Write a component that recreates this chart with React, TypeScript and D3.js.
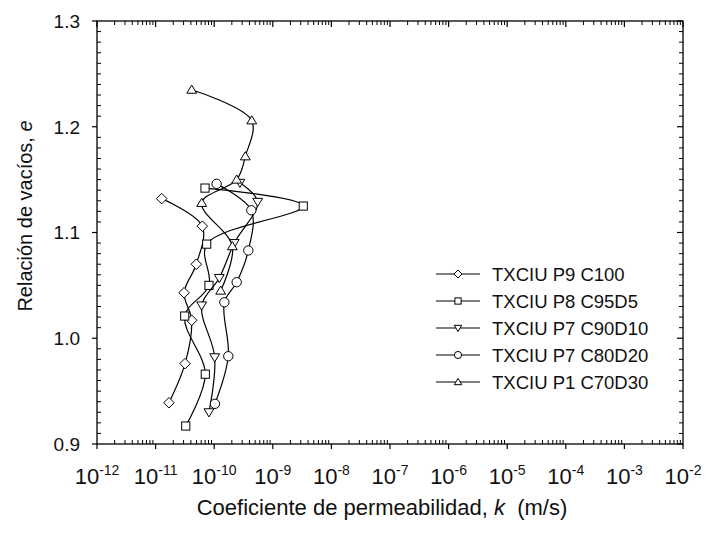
import * as d3 from "d3";

// void ratio e vs permeability k (m/s)
const seriesNames = [
  "TXCIU P9 C100",
  "TXCIU P8 C95D5",
  "TXCIU P7 C90D10",
  "TXCIU P7 C80D20",
  "TXCIU P1 C70D30",
];
const markerTypes = ["diamond", "square", "triangleDown", "circle", "triangleUp"];

const kP9 = [1.27e-11, 6.27e-11, 4.95e-11, 3.06e-11, 4.13e-11, 3.18e-11, 1.69e-11];
const eP9 = [1.132, 1.106, 1.07, 1.043, 1.017, 0.976, 0.939];

const kP8 = [6.97e-11, 3.31e-9, 7.45e-11, 8.14e-11, 3.14e-11, 7.05e-11, 3.27e-11];
const eP8 = [1.142, 1.125, 1.089, 1.05, 1.021, 0.966, 0.917];

const kP7a = [2.75e-10, 5.52e-10, 2.2e-10, 1.22e-10, 6.12e-11, 1.02e-10, 8.14e-11];
const eP7a = [1.147, 1.129, 1.09, 1.057, 1.031, 0.982, 0.93];

const kP7b = [1.1e-10, 4.3e-10, 3.82e-10, 2.42e-10, 1.49e-10, 1.74e-10, 1.03e-10];
const eP7b = [1.146, 1.121, 1.083, 1.053, 1.034, 0.983, 0.938];

const kP1 = [4.13e-11, 4.37e-10, 3.4e-10, 2.42e-10, 6.12e-11, 2.04e-10, 1.29e-10];
const eP1 = [1.235, 1.206, 1.172, 1.15, 1.128, 1.087, 1.045];

const kSeries = [kP9, kP8, kP7a, kP7b, kP1];
const eSeries = [eP9, eP8, eP7a, eP7b, eP1];

const xExponents = [-12, -11, -10, -9, -8, -7, -6, -5, -4, -3, -2];
const yTicks = [0.9, 1.0, 1.1, 1.2, 1.3];

const W = 706;
const H = 537;
const left = 97, right = 683, top = 21, bottom = 444;
const font = "'Liberation Sans', Arial, sans-serif";

function Marker({ type, x, y, s }: { type: string; x: number; y: number; s: number }) {
  const common = { fill: "#fff", stroke: "#000", strokeWidth: 1 };
  if (type === "circle") return <circle cx={x} cy={y} r={s * 0.55} {...common} />;
  if (type === "square")
    return <rect x={x - s * 0.48} y={y - s * 0.48} width={s * 0.96} height={s * 0.96} {...common} />;
  if (type === "diamond") {
    const r = s * 0.62;
    return <path d={`M${x},${y - r}L${x + r},${y}L${x},${y + r}L${x - r},${y}Z`} {...common} />;
  }
  const h = s * 0.55;
  if (type === "triangleUp")
    return <path d={`M${x},${y - h}L${x + h * 1.05},${y + h * 0.75}L${x - h * 1.05},${y + h * 0.75}Z`} {...common} />;
  return <path d={`M${x},${y + h}L${x + h * 1.05},${y - h * 0.75}L${x - h * 1.05},${y - h * 0.75}Z`} {...common} />;
}

export default function App() {
  const x = d3.scaleLog().domain([1e-12, 1e-2]).range([left, right]);
  const y = d3.scaleLinear().domain([0.9, 1.3]).range([bottom, top]);

  const line = d3
    .line<[number, number]>()
    .x((d) => x(d[0]))
    .y((d) => y(d[1]))
    .curve(d3.curveCatmullRom.alpha(0.5));

  const minorX: number[] = [];
  xExponents.slice(0, -1).forEach((p) => {
    for (let m = 2; m <= 9; m++) minorX.push(m * Math.pow(10, p));
  });
  const minorY = d3.range(0, 41).map((i) => 0.9 + i * 0.01).filter((_, i) => i % 10 !== 0);

  return (
    <svg width={W} height={H} style={{ position: "absolute", left: 0, top: 0, background: "#fff" }}>
      <rect x={0} y={0} width={W} height={H} fill="#fff" />
      {/* series */}
      {kSeries.map((ks, i) => {
        const pts = ks.map((k, j) => [k, eSeries[i][j]] as [number, number]);
        return (
          <g key={i}>
            <path d={line(pts) || ""} fill="none" stroke="#000" strokeWidth={1.2} />
            {pts.map((p, j) => (
              <Marker key={j} type={markerTypes[i]} x={x(p[0])} y={y(p[1])} s={8.5} />
            ))}
          </g>
        );
      })}

      {/* frame */}
      <rect x={left} y={top} width={right - left} height={bottom - top} fill="none" stroke="#000" strokeWidth={1.3} />

      {/* x ticks */}
      {xExponents.map((p) => {
        const px = x(Math.pow(10, p));
        return (
          <g key={p}>
            <line x1={px} x2={px} y1={bottom} y2={bottom + 5} stroke="#000" strokeWidth={1.2} />
            <line x1={px} x2={px} y1={top} y2={top + 6} stroke="#000" strokeWidth={1.2} />
            <text x={px} y={484} textAnchor="middle" fontFamily={font} fontSize={22} fill="#111">
              10<tspan fontSize={14} dy={-9}>{p}</tspan>
            </text>
          </g>
        );
      })}
      {minorX.map((v, i) => (
        <g key={i}>
          <line x1={x(v)} x2={x(v)} y1={bottom} y2={bottom - 4} stroke="#000" strokeWidth={1} />
          <line x1={x(v)} x2={x(v)} y1={top} y2={top + 4} stroke="#000" strokeWidth={1} />
        </g>
      ))}

      {/* y ticks */}
      {yTicks.map((v) => (
        <g key={v}>
          <line x1={left - 5} x2={left} y1={y(v)} y2={y(v)} stroke="#000" strokeWidth={1.2} />
          <line x1={right - 6} x2={right} y1={y(v)} y2={y(v)} stroke="#000" strokeWidth={1.2} />
          <text x={80} y={y(v)} dy="0.36em" textAnchor="end" fontFamily={font} fontSize={19} fill="#111">
            {v.toFixed(1)}
          </text>
        </g>
      ))}
      {minorY.map((v, i) => (
        <g key={i}>
          <line x1={left} x2={left + 4} y1={y(v)} y2={y(v)} stroke="#000" strokeWidth={1} />
          <line x1={right - 4} x2={right} y1={y(v)} y2={y(v)} stroke="#000" strokeWidth={1} />
        </g>
      ))}

      {/* axis titles */}
      <text
        transform="translate(32,216) rotate(-90)"
        textAnchor="middle"
        fontFamily={font}
        fontSize={20}
        fill="#111"
      >
        Relación de vacíos, <tspan fontStyle="italic">e</tspan>
      </text>
      <text x={382} y={515} textAnchor="middle" fontFamily={font} fontSize={22} fill="#111" xmlSpace="preserve">
        Coeficiente de permeabilidad, <tspan fontStyle="italic">k</tspan>  (m/s)
      </text>

      {/* legend */}
      {seriesNames.map((name, i) => {
        const ly = 274 + i * 27;
        return (
          <g key={name}>
            <line x1={436} x2={480} y1={ly} y2={ly} stroke="#000" strokeWidth={1.2} />
            <Marker type={markerTypes[i]} x={458} y={ly} s={6.5} />
            <text x={492} y={ly} dy="0.36em" fontFamily={font} fontSize={18.5} fill="#111">
              {name}
            </text>
          </g>
        );
      })}
    </svg>
  );
}
